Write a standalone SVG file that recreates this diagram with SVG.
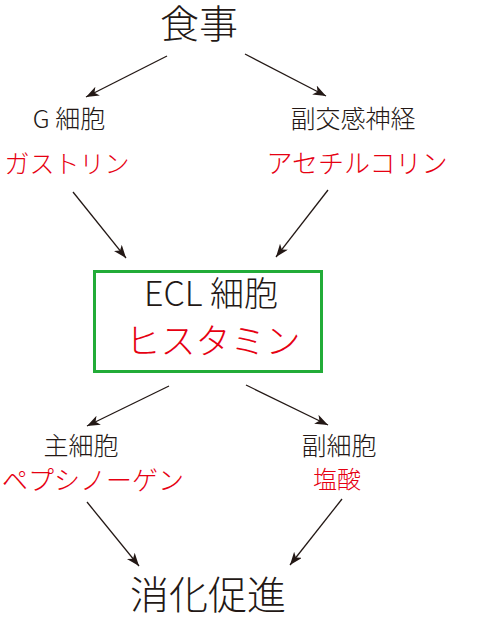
<svg xmlns="http://www.w3.org/2000/svg" width="480" height="624" viewBox="0 0 480 624">
<defs>
<marker id="ah" markerUnits="userSpaceOnUse" markerWidth="14" markerHeight="12" refX="13" refY="5" orient="auto">
<path d="M0,0 L13,5 L0,10 L3.5,5 Z" fill="#231815"/>
</marker>
<style>
text{font-family:"Noto Sans CJK JP","Noto Sans",sans-serif;text-anchor:middle;font-weight:300}
.k{fill:#231815}
.r{fill:#e60012}
.c{stroke:#231815;stroke-width:1.3;fill:none;marker-end:url(#ah)}
</style>
</defs>
<rect width="480" height="624" fill="#fff"/>
<g id="connectors">
<line class="c" x1="167" y1="56" x2="86" y2="97"/>
<line class="c" x1="245" y1="54" x2="326" y2="96"/>
<line class="c" x1="73" y1="192" x2="126" y2="258"/>
<line class="c" x1="328" y1="190" x2="276" y2="257"/>
<line class="c" x1="169" y1="386" x2="87" y2="426"/>
<line class="c" x1="246" y1="385" x2="328" y2="425"/>
<line class="c" x1="87" y1="502" x2="139" y2="566"/>
<line class="c" x1="342" y1="499" x2="290" y2="565"/>
</g>
<g id="meal"><text class="k" x="199" y="38" font-size="39">食事</text></g>
<g id="gcell">
<text class="k" x="69" y="128" font-size="25">G 細胞</text>
<text class="r" x="67" y="173" font-size="25">ガストリン</text>
</g>
<g id="vagus">
<text class="k" x="353" y="128" font-size="25">副交感神経</text>
<text class="r" x="357" y="173" font-size="26">アセチルコリン</text>
</g>
<g id="ecl">
<rect x="94.5" y="271.5" width="227" height="100" fill="none" stroke="#22ac38" stroke-width="3"/>
<text class="k" x="211" y="306" font-size="34">ECL 細胞</text>
<text class="r" x="213" y="354" font-size="35">ヒスタミン</text>
</g>
<g id="chief">
<text class="k" x="81" y="455" font-size="25">主細胞</text>
<text class="r" x="93" y="490" font-size="26">ペプシノーゲン</text>
</g>
<g id="parietal">
<text class="k" x="339" y="455" font-size="25">副細胞</text>
<text class="r" x="337" y="488" font-size="24">塩酸</text>
</g>
<g id="digestion"><text class="k" x="208" y="609" font-size="39">消化促進</text></g>
</svg>
